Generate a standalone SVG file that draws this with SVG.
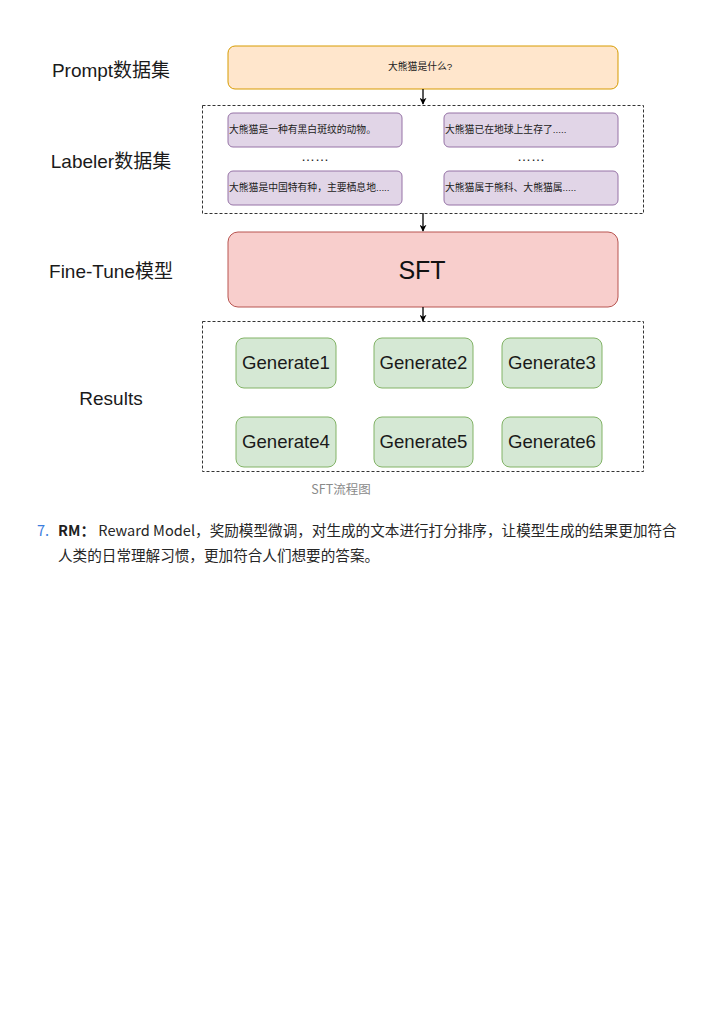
<svg xmlns="http://www.w3.org/2000/svg" width="724" height="1024" viewBox="0 0 724 1024">
<defs>
<marker id="arr" viewBox="0 0 10 10" refX="9" refY="5" markerWidth="7" markerHeight="7" orient="auto" markerUnits="userSpaceOnUse"><path d="M0,0 L10,5 L0,10 L3,5 Z" fill="#000"/></marker>
<style>
.lbl{font-family:"Liberation Sans","Noto Sans CJK SC",sans-serif;font-size:19px;fill:#1a1a1a;text-anchor:middle}
.dash{fill:none;stroke:#333;stroke-width:1;stroke-dasharray:3,2}
.purple{fill:#e1d5e7;stroke:#9673a6;stroke-width:1}
.green{fill:#d5e8d4;stroke:#82b366;stroke-width:1}
.ptxt{font-family:"Liberation Sans","Noto Sans CJK SC",sans-serif;font-size:9.8px;fill:#222}
.gtxt{font-family:"Liberation Sans","Noto Sans CJK SC",sans-serif;font-size:18.6px;fill:#1a1a1a;text-anchor:middle}
.dots{font-family:"Liberation Sans",sans-serif;font-size:14px;fill:#222;text-anchor:middle}
.conn{stroke:#000;stroke-width:1.3;fill:none}
.body{font-family:"Noto Sans CJK SC","Noto Sans",sans-serif;font-size:14.6px;fill:#262626}
</style>
</defs>
<rect width="724" height="1024" fill="#fff"/>

<g id="labels">
<text class="lbl" x="111" y="77">Prompt数据集</text>
<text class="lbl" x="111" y="168">Labeler数据集</text>
<text class="lbl" x="111" y="278">Fine-Tune模型</text>
<text class="lbl" x="111" y="405">Results</text>
</g>

<g id="prompt">
<rect x="228" y="46" width="390" height="43" rx="7" fill="#ffe6cc" stroke="#d79b00" stroke-width="1"/>
<text class="ptxt" x="388" y="70">大熊猫是什么?</text>
</g>

<g id="labeler">
<rect class="dash" x="202.5" y="105.5" width="441" height="108"/>
<g id="l1"><rect class="purple" x="228" y="113" width="174" height="34" rx="5"/><text class="ptxt" x="229" y="133">大熊猫是一种有黑白斑纹的动物。</text></g>
<g id="l2"><rect class="purple" x="444" y="113" width="174" height="34" rx="5"/><text class="ptxt" x="445" y="133">大熊猫已在地球上生存了.....</text></g>
<g id="l3"><rect class="purple" x="228" y="171" width="174" height="34" rx="5"/><text class="ptxt" x="229" y="191">大熊猫是中国特有种，主要栖息地.....</text></g>
<g id="l4"><rect class="purple" x="444" y="171" width="174" height="34" rx="5"/><text class="ptxt" x="445" y="191">大熊猫属于熊科、大熊猫属.....</text></g>
<text class="dots" x="315" y="161">……</text>
<text class="dots" x="531" y="161">……</text>
</g>

<g id="sft">
<rect x="228" y="232" width="390" height="75" rx="10" fill="#f8cecc" stroke="#b85450" stroke-width="1"/>
<text x="422" y="279" font-family="'Liberation Sans',sans-serif" font-size="25" fill="#111" text-anchor="middle">SFT</text>
</g>

<g id="results">
<rect class="dash" x="202.5" y="321.5" width="441" height="150"/>
<g id="g1"><rect class="green" x="236" y="338" width="100" height="50" rx="8"/><text class="gtxt" x="286" y="369">Generate1</text></g>
<g id="g2"><rect class="green" x="374" y="338" width="99" height="50" rx="8"/><text class="gtxt" x="423.5" y="369">Generate2</text></g>
<g id="g3"><rect class="green" x="502" y="338" width="100" height="50" rx="8"/><text class="gtxt" x="552" y="369">Generate3</text></g>
<g id="g4"><rect class="green" x="236" y="417" width="100" height="50" rx="8"/><text class="gtxt" x="286" y="448">Generate4</text></g>
<g id="g5"><rect class="green" x="374" y="417" width="99" height="50" rx="8"/><text class="gtxt" x="423.5" y="448">Generate5</text></g>
<g id="g6"><rect class="green" x="502" y="417" width="100" height="50" rx="8"/><text class="gtxt" x="552" y="448">Generate6</text></g>
</g>

<g id="connectors">
<line class="conn" x1="423" y1="89" x2="423" y2="104" marker-end="url(#arr)"/>
<line class="conn" x1="423" y1="213" x2="423" y2="231" marker-end="url(#arr)"/>
<line class="conn" x1="423" y1="307" x2="423" y2="321" marker-end="url(#arr)"/>
</g>

<text x="341" y="494" font-family="'Noto Sans CJK SC','Noto Sans',sans-serif" font-size="12.5" fill="#8a8a8a" text-anchor="middle">SFT流程图</text>

<g id="para">
<text class="body" x="37" y="536" style="fill:#3b7ddd">7.</text>
<text class="body" x="58" y="536"><tspan font-weight="bold" fill="#1f1f1f">RM：</tspan> Reward Model，奖励模型微调，对生成的文本进行打分排序，让模型生成的结果更加符合</text>
<text class="body" x="58" y="561">人类的日常理解习惯，更加符合人们想要的答案。</text>
</g>
</svg>
